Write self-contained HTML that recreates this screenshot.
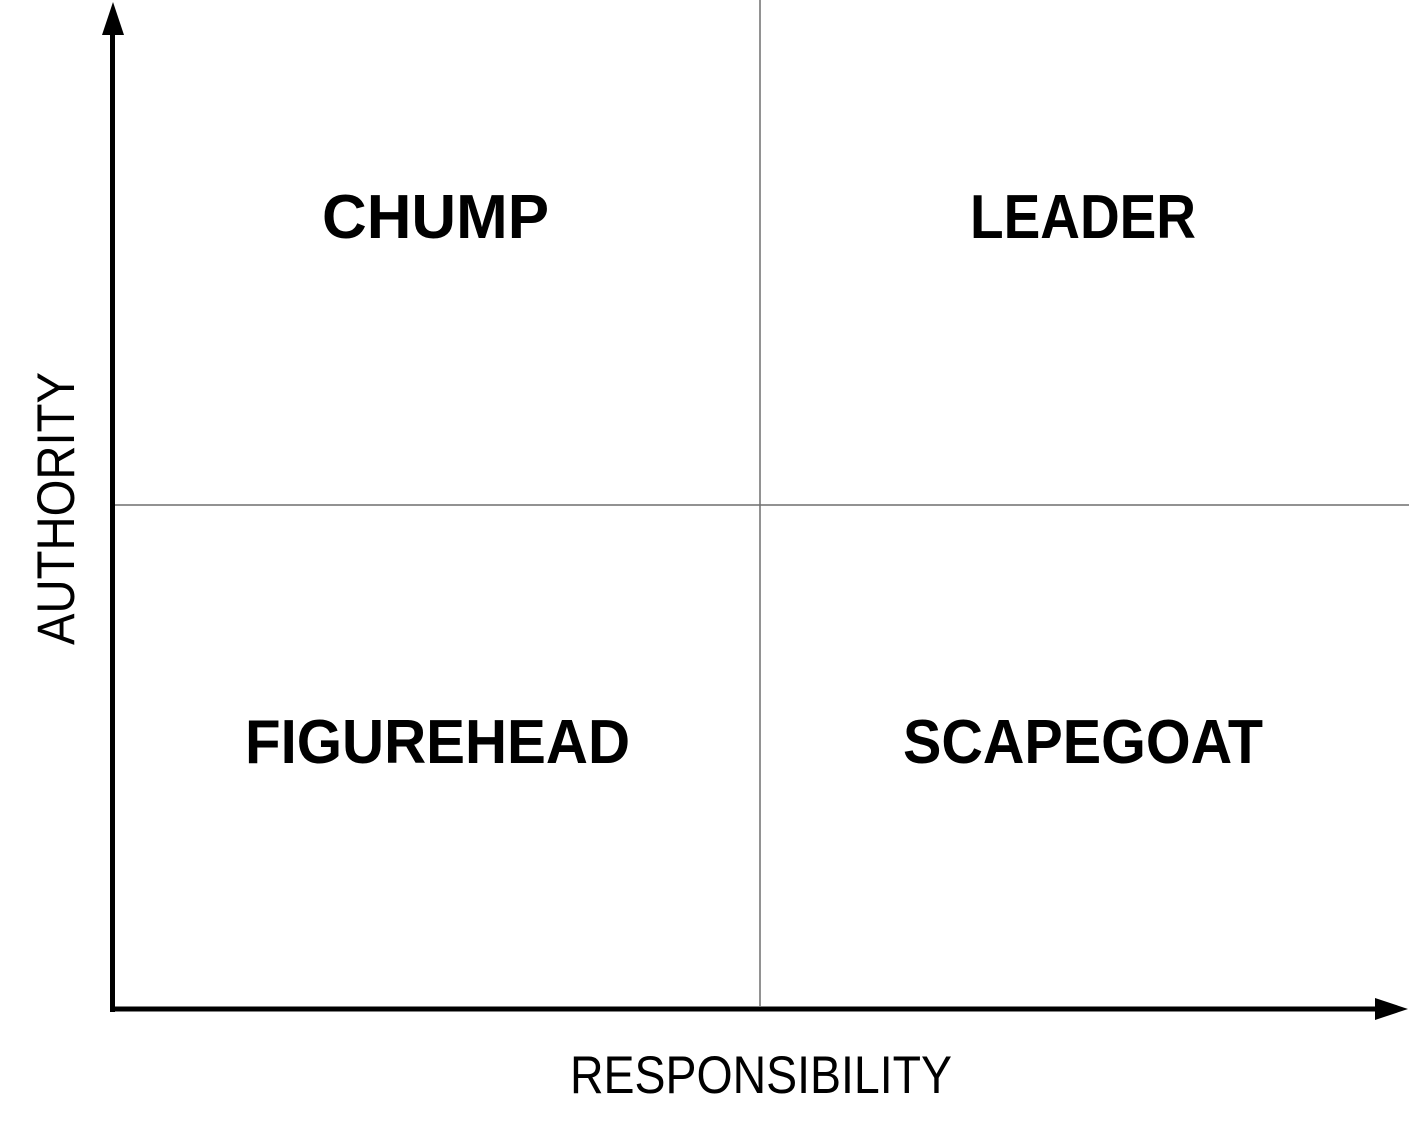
<!DOCTYPE html>
<html><head><meta charset="utf-8"><style>
html,body{margin:0;padding:0;background:#fff;}
svg{display:block;}
</style></head><body>
<svg width="1409" height="1140" viewBox="0 0 1409 1140" xmlns="http://www.w3.org/2000/svg">
<line x1="760" y1="0" x2="760" y2="1006" stroke="#6f6f6f" stroke-width="1.5"/>
<line x1="113" y1="505" x2="1409" y2="505" stroke="#6f6f6f" stroke-width="1.5"/>
<line x1="112.5" y1="30" x2="112.5" y2="1012" stroke="#000" stroke-width="5"/>
<line x1="110" y1="1009" x2="1380" y2="1009" stroke="#000" stroke-width="5"/>
<polygon points="113,2 102,35 124,35" fill="#000"/>
<polygon points="1408,1009 1375,998 1375,1020" fill="#000"/>
<g font-family="'Liberation Sans', sans-serif" font-weight="bold" font-size="62" fill="#000">
<text x="322" y="238" textLength="227" lengthAdjust="spacingAndGlyphs">CHUMP</text>
<text x="970" y="238" textLength="226" lengthAdjust="spacingAndGlyphs">LEADER</text>
<text x="245" y="763" textLength="385" lengthAdjust="spacingAndGlyphs">FIGUREHEAD</text>
<text x="903" y="763" textLength="360" lengthAdjust="spacingAndGlyphs">SCAPEGOAT</text>
</g>
<g font-family="'Liberation Sans', sans-serif" font-size="53" fill="#000">
<text x="570" y="1093" textLength="382" lengthAdjust="spacingAndGlyphs">RESPONSIBILITY</text>
<text transform="translate(74,645) rotate(-90)" x="0" y="0" textLength="273" lengthAdjust="spacingAndGlyphs">AUTHORITY</text>
</g>
</svg>
</body></html>
